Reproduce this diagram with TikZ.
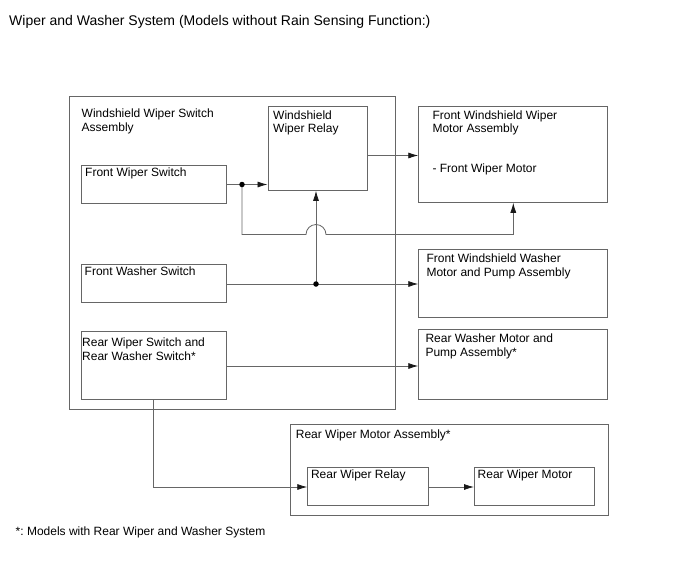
\documentclass[tikz,border=0pt]{standalone}
\usepackage{fontspec}
\setmainfont{Liberation Sans}
\usetikzlibrary{arrows.meta,calc}
\begin{document}
\frenchspacing
\begin{tikzpicture}[x=1pt,y=-1pt,
 box/.style={draw=black!60, line width=0.8pt, anchor=north west, inner sep=0pt},
 lab/.style={anchor=north west, inner sep=0pt, align=left, font=\fontsize{12}{13.4}\selectfont},
 wire/.style={draw=black!60, line width=0.8pt},
 arr/.style={wire, -{Latex[length=10pt,width=6pt,black!90]}},
 dot/.style={circle, fill=black, inner sep=0pt, minimum size=5.5pt}]
\useasboundingbox[fill=white] (0,0) rectangle (688,560);
\node[anchor=base west, inner sep=0pt, font=\fontsize{14}{16}\selectfont] (title) at (9,25) {Wiper and Washer System (Models without Rain Sensing Function:)};
\node[anchor=base west, inner sep=0pt, font=\fontsize{12}{14}\selectfont] (foot) at (15.5,535) {*: Models with Rear Wiper and Washer System};
% boxes
\node[box, minimum width=326pt, minimum height=313pt,
  label={[lab, xshift=13pt, yshift=-13pt]north west:Windshield Wiper Switch\\Assembly}] (outer) at (68.5,96) {};
\node[box, minimum width=145pt, minimum height=38pt,
  label={[lab, xshift=4.5pt, yshift=-3pt]north west:Front Wiper Switch}] (fws) at (80.5,165) {};
\node[box, minimum width=99.5pt, minimum height=84pt,
  label={[lab, xshift=5.5pt, yshift=-4.5pt]north west:Windshield\\Wiper Relay}] (relay) at (267.5,106) {};
\node[box, minimum width=188.7pt, minimum height=96pt,
  label={[lab, xshift=14pt, yshift=-4.5pt]north west:Front Windshield Wiper\\Motor Assembly\\[26.6pt]- Front Wiper Motor}] (fwm) at (418.3,106) {};
\node[box, minimum width=145pt, minimum height=38pt,
  label={[lab, xshift=4pt, yshift=-2.7pt]north west:Front Washer Switch}] (fwsw) at (80.5,264.3) {};
\node[box, minimum width=188.7pt, minimum height=68pt,
  label={[lab, xshift=8pt, yshift=-4.6pt]north west:Front Windshield Washer\\Motor and Pump Assembly}] (fwp) at (418.3,249.3) {};
\node[box, minimum width=145pt, minimum height=68.3pt,
  label={[lab, xshift=1.5pt, yshift=-7pt]north west:Rear Wiper Switch and\\Rear Washer Switch*}] (rws) at (80.5,331) {};
\node[box, minimum width=188.7pt, minimum height=70pt,
  label={[lab, xshift=7pt, yshift=-4.6pt]north west:Rear Washer Motor and\\Pump Assembly*}] (rwp) at (418.3,329.3) {};
\node[box, minimum width=318pt, minimum height=91pt,
  label={[lab, xshift=6pt, yshift=-5.5pt]north west:Rear Wiper Motor Assembly*}] (rwma) at (289.7,424) {};
\node[box, minimum width=121pt, minimum height=38pt,
  label={[lab, xshift=3.5pt, yshift=-2.6pt]north west:Rear Wiper Relay}] (rwr) at (307.3,467) {};
\node[box, minimum width=120.3pt, minimum height=38pt,
  label={[lab, xshift=3.5pt, yshift=-2.6pt]north west:Rear Wiper Motor}] (rwm) at (474,467) {};
% junctions and bends
\coordinate (j1) at (242,184.5);
\coordinate (j2) at (316,284);
\coordinate (cA) at (242,234.5);
\coordinate (cB) at (513.3,234.5);
\coordinate (cC) at (153.3,487);
% connectors
\draw[arr] (fws.east |- j1) -- (j1 -| relay.west);
\draw[arr] (relay.east |- 0,155.5) -- (fwm.west |- 0,155.5);
\draw[wire] (j1) -- (cA) -- ($(cA -| j2)+(-10,0)$) arc (180:360:10) -- (cB);
\draw[arr] (cB) -- (cB |- fwm.south);
\draw[arr] (fwsw.east |- j2) -- (j2 -| fwp.west);
\draw[arr] (j2) -- (j2 |- relay.south);
\draw[arr] (rws.east |- 0,366) -- (rwp.west |- 0,366);
\draw[arr] (rws.south -| cC) -- (cC) -- (cC -| rwr.west);
\draw[arr] (rwr.east |- cC) -- (rwm.west |- cC);
\node[dot] (d1) at (j1) {};
\node[dot] (d2) at (j2) {};
\end{tikzpicture}
\end{document}
